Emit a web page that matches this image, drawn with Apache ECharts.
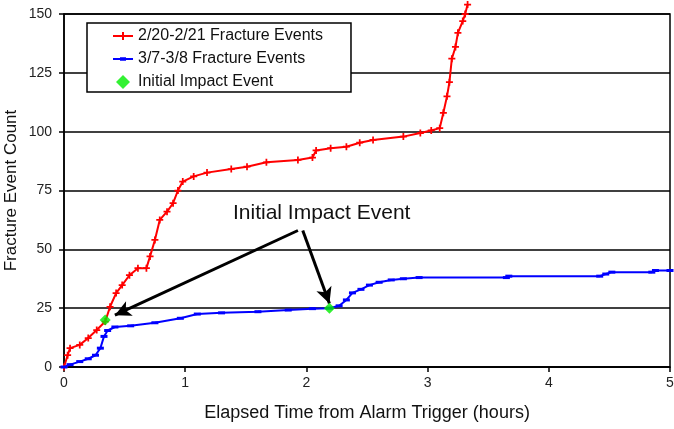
<!DOCTYPE html>
<html>
<head>
<meta charset="utf-8">
<script src="https://cdn.jsdelivr.net/npm/echarts@6/dist/echarts.min.js"></script>
<style>html,body{margin:0;padding:0;background:#fff}#c{width:674px;height:429px}</style>
</head>
<body>
<div id="c"></div>
<script>
const xTicks = [0, 1, 2, 3, 4, 5];
const yTicks = [0, 25, 50, 75, 100, 125, 150];
const seriesNames = ['2/20-2/21 Fracture Events', '3/7-3/8 Fracture Events', 'Initial Impact Event'];
const redEvents = [[0,0],[0.03,5],[0.05,8],[0.13,9.4],[0.2,12.3],[0.27,15.7],[0.34,19.3],[0.38,25.6],[0.43,31.4],[0.48,34.8],[0.54,39],[0.61,42],[0.68,42],[0.71,47],[0.75,54],[0.79,62.5],[0.85,66],[0.9,69.6],[0.94,75],[0.98,78.8],[1.07,81],[1.18,82.6],[1.38,84.1],[1.51,85.1],[1.67,87],[1.93,88],[2.05,89],[2.08,92],[2.2,93],[2.33,93.6],[2.44,95.3],[2.55,96.5],[2.8,97.9],[2.94,99.4],[3.03,100.5],[3.1,101.5],[3.13,108],[3.16,115],[3.18,121],[3.2,131],[3.23,136],[3.25,142],[3.29,147],[3.31,150],[3.33,154]];
const blueEvents = [[0,0],[0.05,1],[0.13,2.3],[0.2,3.5],[0.26,5],[0.3,8],[0.33,13],[0.36,15.5],[0.42,17],[0.55,17.5],[0.75,18.8],[0.96,20.7],[1.1,22.5],[1.3,23],[1.6,23.5],[1.85,24.2],[2.05,24.8],[2.19,25],[2.27,26],[2.33,28.5],[2.38,31.5],[2.45,33],[2.52,34.8],[2.6,36],[2.7,37],[2.8,37.5],[2.93,38],[3.65,38],[3.67,38.6],[4.42,38.6],[4.47,39.5],[4.52,40.3],[4.85,40.3],[4.88,41],[5,41]];
const impactPoints = [[0.34,20],[2.19,25]];
const arrowStarts = [[1.93,58],[1.97,58]];
const arrowEnds = [[0.42,22],[2.19,27]];
const annotationText = 'Initial Impact Event';

const font = 'Liberation Sans, Arial, sans-serif';
const plusPath = 'path://M3,0h2v3h3v2h-3v3h-2v-3h-3v-2h3z';
const dashPath = 'path://M0,0h8v3h-8z';
const diamondPath = 'path://M5,0L10,5L5,10L0,5z';
const redIcon = 'path://M0,5H9V2H11V5H20V7H11V10H9V7H0Z';
const blueIcon = 'path://M0,5H7V4.2H13V5H20V7H13V7.8H7V7H0Z';
const chart = echarts.init(document.getElementById('c'));
chart.setOption({
  animation: false,
  backgroundColor: '#fff',
  grid: {left: 64, right: 4, top: 14, bottom: 62, containLabel: false, outerBoundsMode: 'none',
         show: true, borderColor: '#000', borderWidth: 1.5},
  legend: {
    orient: 'vertical', left: 87, top: 23,
    padding: [5, 28, 2, 26], itemGap: 7, itemWidth: 20, itemHeight: 14,
    borderColor: '#000', borderWidth: 1.5, backgroundColor: '#fff',
    textStyle: {fontFamily: font, fontSize: 16, color: '#111'},
    data: [
      {name: seriesNames[0], icon: redIcon, itemStyle: {color: '#ff0000'}},
      {name: seriesNames[1], icon: blueIcon, itemStyle: {color: '#0000ff'}},
      {name: seriesNames[2], icon: diamondPath, itemStyle: {color: '#00ee00'}}
    ]
  },
  xAxis: {
    type: 'value', min: xTicks[0], max: xTicks[xTicks.length-1], interval: 1,
    name: 'Elapsed Time from Alarm Trigger (hours)', nameLocation: 'middle', nameGap: 37,
    nameTextStyle: {fontFamily: font, fontSize: 18, color: '#111'},
    axisLine: {lineStyle: {color: '#000', width: 1.5}},
    axisTick: {show: true, length: 5, lineStyle: {color: '#000', width: 1.5}},
    axisLabel: {fontFamily: font, fontSize: 14, color: '#222', margin: 9},
    splitLine: {show: false}
  },
  yAxis: {
    type: 'value', min: yTicks[0], max: yTicks[yTicks.length-1], interval: 25,
    name: 'Fracture Event Count', nameLocation: 'middle', nameGap: 44, nameMoveOverlap: false,
    nameTextStyle: {fontFamily: font, fontSize: 17, color: '#111'},
    axisLine: {show: true, lineStyle: {color: '#000', width: 1.5}},
    axisTick: {show: true, length: 5, lineStyle: {color: '#000', width: 1.5}},
    axisLabel: {fontFamily: font, fontSize: 14, color: '#222', margin: 12},
    splitLine: {show: true, lineStyle: {color: '#000', width: 1.5}}
  },
  series: [
    {
      name: seriesNames[0], type: 'line', data: redEvents, clip: false,
      symbol: plusPath, symbolSize: 7, showAllSymbol: true,
      lineStyle: {color: '#ff0000', width: 2}, itemStyle: {color: '#ff0000'}, z: 3
    },
    {
      name: seriesNames[1], type: 'line', data: blueEvents,
      symbol: dashPath, symbolSize: [7, 3], showAllSymbol: true,
      lineStyle: {color: '#0000ff', width: 2}, itemStyle: {color: '#0000ff'}, z: 3
    },
    {
      name: seriesNames[2], type: 'scatter', data: impactPoints,
      symbol: 'diamond', symbolSize: 11, itemStyle: {color: '#00ee00'}, z: 5,
      markLine: {
        silent: true, symbol: ['none', 'arrow'], symbolSize: [12, 16],
        lineStyle: {color: '#000', width: 3, type: 'solid'},
        label: {show: false},
        data: arrowStarts.map((s, i) => [{coord: s}, {coord: arrowEnds[i]}])
      }
    }
  ],
  graphic: [{
    type: 'text', left: 233, top: 203,
    style: {text: annotationText, font: '21px ' + font, fill: '#111'}
  }]
});
</script>
</body>
</html>
